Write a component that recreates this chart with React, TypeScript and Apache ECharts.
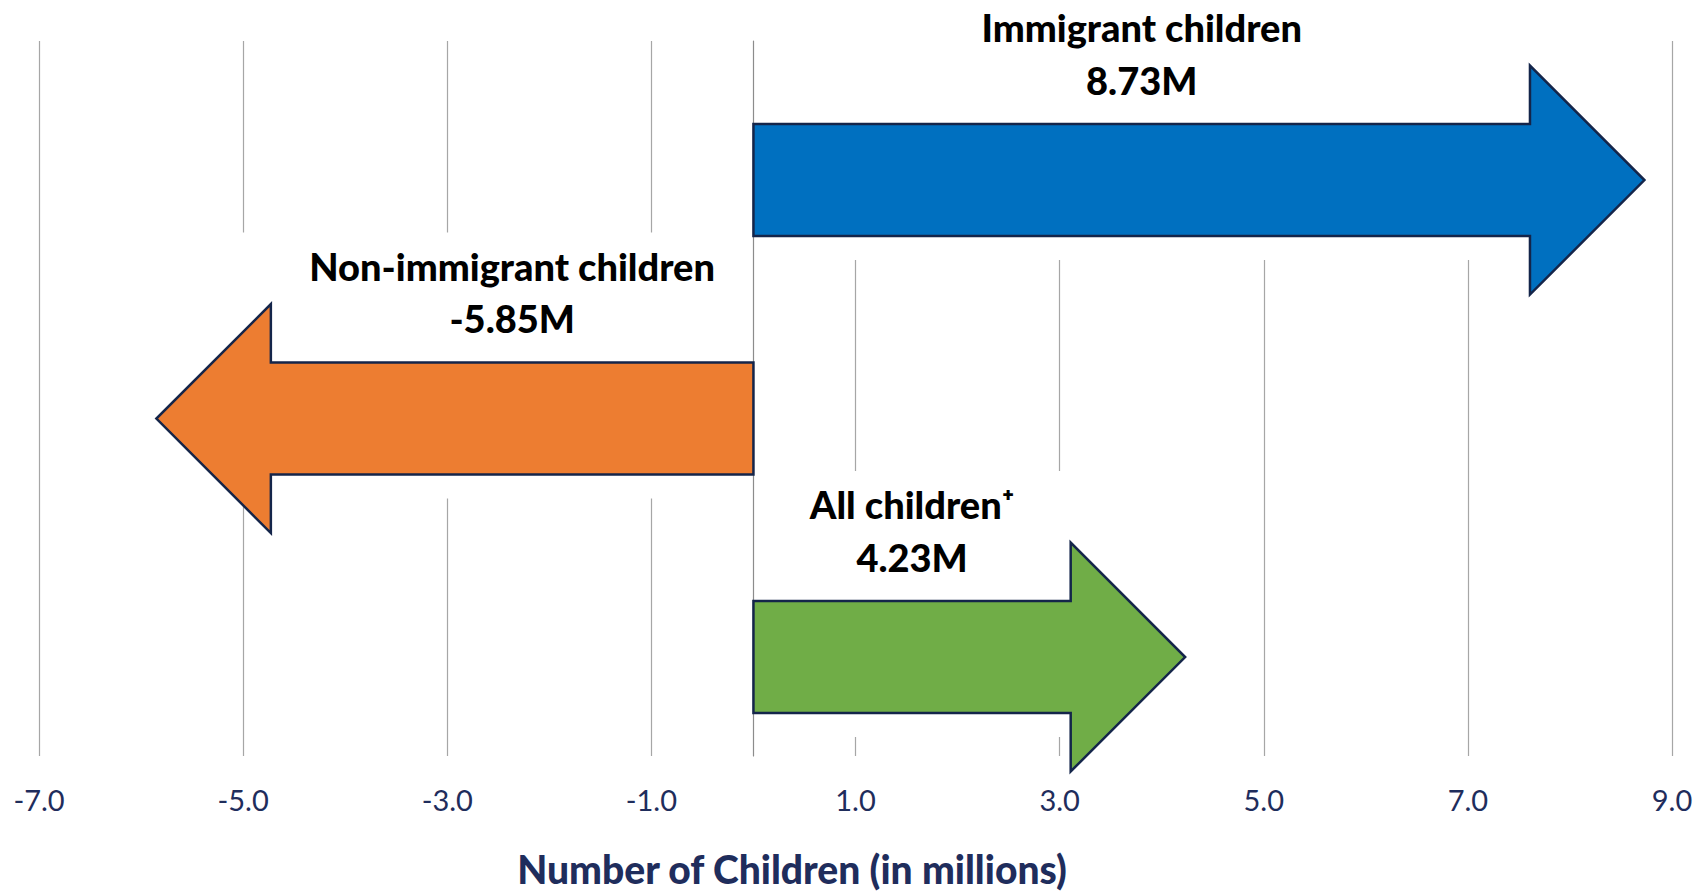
import React, { useEffect, useRef } from "react";
import * as echarts from "echarts";

// ---- data ----
const categories = ["Immigrant children", "Non-immigrant children", "All children\u207A"];
const values = [8.73, -5.85, 4.23];
const xMin = -7;
const xMax = 9;
const xStep = 2;
const axisTitle = "Number of Children (in millions)";

// ---- styles ----
const arrowColors = ["#0070C0", "#ED7D31", "#70AD47"];
const navy = "#1F2D5C";
const FONT = "Lato";

export default function App() {
  const ref = useRef<HTMLDivElement>(null);

  useEffect(() => {
    if (!ref.current) return;
    const chart = echarts.init(ref.current, null, { renderer: "svg" });

    const renderItem = (params: any, api: any) => {
      const v = api.value(0) as number;
      const row = api.value(1) as number;
      const [x0, cy] = api.coord([0, row]);
      const [xt] = api.coord([v, row]);
      const band = api.size([0, 1])[1];
      const dir = v >= 0 ? 1 : -1;
      const bodyH = band * 0.47;
      const headH = band * 0.96;
      const headLen = headH * 0.5;
      const xb = xt - dir * headLen;
      const pts = [
        [x0, cy - bodyH / 2],
        [xb, cy - bodyH / 2],
        [xb, cy - headH / 2],
        [xt, cy],
        [xb, cy + headH / 2],
        [xb, cy + bodyH / 2],
        [x0, cy + bodyH / 2],
      ];
      const labelX = (x0 + xb) / 2;
      const wx0 = x0 + dir * 2;
      const wTop = cy - band * 0.78;
      const wBot = cy + band * 0.335;
      const textStyle = {
        fill: "#000000",
        fontFamily: FONT,
        fontWeight: 900,
        fontSize: 38,
        align: "center",
        verticalAlign: "middle",
      };
      return {
        type: "group",
        children: [
          {
            type: "rect",
            shape: {
              x: Math.min(wx0, xt),
              y: wTop,
              width: Math.abs(xt - wx0),
              height: wBot - wTop,
            },
            style: { fill: "#ffffff" },
          },
          {
            type: "polygon",
            shape: { points: pts },
            style: {
              fill: arrowColors[row],
              stroke: "#14254A",
              lineWidth: 2.5,
              lineJoin: "miter",
            },
          },
          {
            type: "text",
            x: labelX,
            y: cy - band * 0.64,
            style: { ...textStyle, text: categories[row] },
          },
          {
            type: "text",
            x: labelX,
            y: cy - band * 0.42,
            style: { ...textStyle, text: `${v.toFixed(2)}M` },
          },
        ],
      };
    };

    chart.setOption({
      animation: false,
      backgroundColor: "#ffffff",
      grid: { left: 39, right: 27, top: 41, bottom: 135 },
      xAxis: {
        type: "value",
        min: xMin,
        max: xMax,
        interval: xStep,
        axisLine: { show: false },
        axisTick: { show: false },
        splitLine: { show: true, lineStyle: { color: "#A6A6A6", width: 1.2 } },
        axisLabel: {
          formatter: (val: number) => val.toFixed(1),
          color: navy,
          fontSize: 29,
          fontFamily: FONT,
          margin: 29,
        },
      },
      yAxis: {
        type: "value",
        inverse: true,
        min: -0.583,
        max: 2.415,
        axisLine: { show: true, onZero: true, lineStyle: { color: "#8C8C8C", width: 1.2 } },
        axisLabel: { show: false },
        axisTick: { show: false },
        splitLine: { show: false },
      },
      series: [
        {
          type: "custom",
          clip: false,
          data: values.map((v, i) => [v, i]),
          renderItem,
          z: 3,
        },
      ],
      graphic: [
        {
          type: "text",
          x: 792,
          y: 869,
          style: {
            text: axisTitle,
            fill: navy,
            fontFamily: FONT,
            fontWeight: 900,
            fontSize: 39,
            align: "center",
            verticalAlign: "middle",
          },
        },
      ],
    });

    return () => chart.dispose();
  }, []);

  return (
    <div
      ref={ref}
      style={{ position: "fixed", left: 0, top: 0, width: 1699, height: 891 }}
    />
  );
}
